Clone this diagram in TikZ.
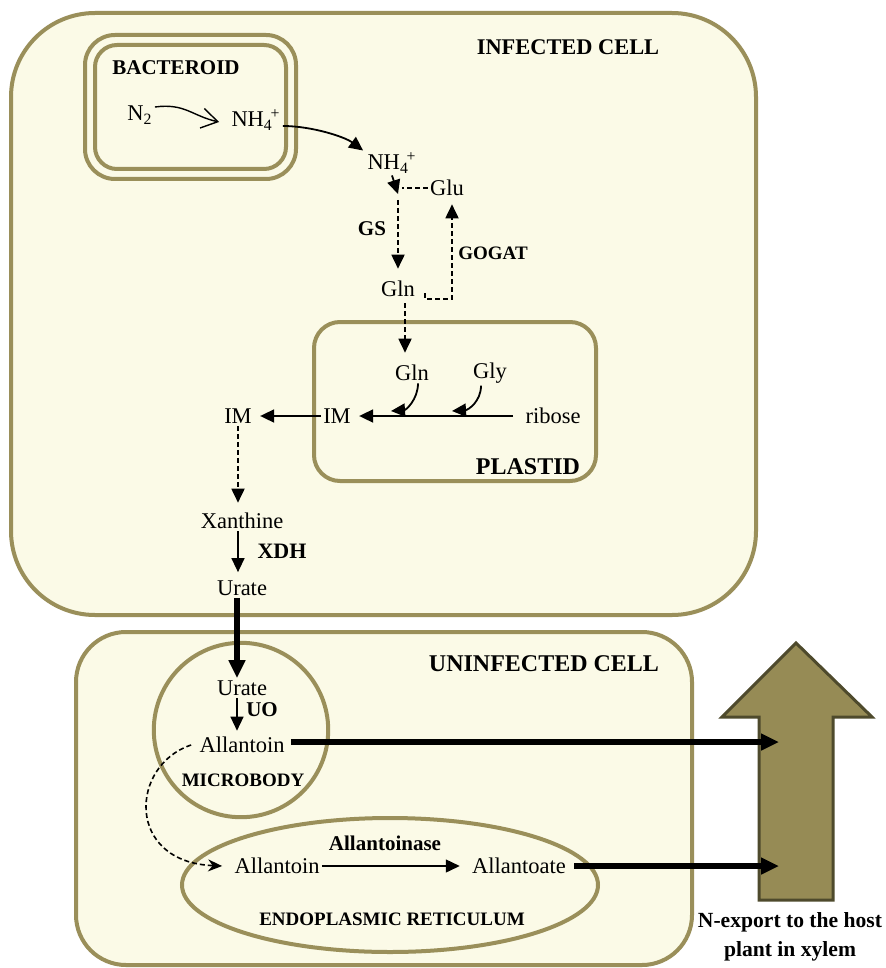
\documentclass[tikz,border=0pt]{standalone}
\usepackage{fontspec}
\setmainfont{Liberation Serif}
\usepackage{xcolor}
\usepackage{tikz}
\usetikzlibrary{positioning,calc,arrows.meta,shapes.geometric}

\definecolor{membrane}{HTML}{9A8F5A}
\definecolor{cream}{HTML}{FBFAE7}
\definecolor{xylemfill}{HTML}{968B55}
\definecolor{xylemedge}{HTML}{4E4A2C}

\begin{document}
\begin{tikzpicture}[x=0.5pt, y=-0.5pt,
  chem/.style={inner sep=1pt, font=\fontsize{11.25}{13}\selectfont},
  enz/.style={inner sep=1pt, font=\fontsize{10.5}{12}\selectfont\bfseries},
  title/.style={inner sep=1pt, font=\fontsize{11.5}{13}\selectfont\bfseries},
  membrane/.style={draw=membrane, line width=2pt, fill=cream},
  arr/.style={-{Triangle[length=7pt,width=6.5pt]}, line width=0.7pt},
  darr/.style={arr, line width=0.9pt, dash pattern=on 2.5pt off 1.5pt},
  fatarr/.style={-{Triangle[length=9pt,width=8pt]}, line width=3pt}]

  \useasboundingbox[fill=white] (0,0) rectangle (885,968);

  % compartments
  \draw[membrane, rounded corners=42pt] (11,13) rectangle (756,615);
  \draw[membrane, rounded corners=25pt] (76,632) rectangle (692,965);
  \draw[membrane, rounded corners=15pt] (85,35) rectangle (296,179);
  \draw[draw=membrane, line width=2pt, rounded corners=11pt] (95,45) rectangle (286,169);
  \draw[membrane, rounded corners=13pt] (314,322) rectangle (596,481);
  \draw[membrane] (241,730) circle[radius=43.6pt];
  \draw[membrane] (390,885) ellipse[x radius=104pt, y radius=33.5pt];

  % export arrow
  \draw[draw=xylemedge, fill=xylemfill, line width=1.5pt, line join=miter]
    (796,643) -- (872,717) -- (833,717) -- (833,900) -- (759,900) -- (759,717) -- (722,717) -- cycle;
  \coordinate (xylem) at (779,800);

  % labels
  \node[title, font=\fontsize{11.2}{13}\selectfont\bfseries] (infected) at (568,47) {INFECTED CELL};
  \node[title, font=\fontsize{10.5}{12}\selectfont\bfseries] (bacteroid) at (176,68) {BACTEROID};
  \node[title, font=\fontsize{12}{14}\selectfont\bfseries] (plastid) at (528,467) {PLASTID};
  \node[title, font=\fontsize{12}{14}\selectfont\bfseries] (uninfected) at (544,664) {UNINFECTED CELL};
  \node[title, font=\fontsize{9.5}{11}\selectfont\bfseries] (microbody) at (243,780) {MICROBODY};
  \node[title, font=\fontsize{9.5}{11}\selectfont\bfseries] (er) at (392,919) {ENDOPLASMIC RETICULUM};
  \node[title, align=center, font=\fontsize{10.8}{14.5}\selectfont\bfseries] (export) at (790,937)
    {N-export to the host\\plant in xylem};

  % metabolites
  \node[chem] (n2) at (140,115) {N\textsubscript{2}};
  \node[chem] (nh4a) at (256,120) {NH\textsubscript{4}\kern-0.1em\textsuperscript{+}};
  \node[chem] (nh4b) at (392,163) {NH\textsubscript{4}\kern-0.1em\textsuperscript{+}};
  \node[chem] (glu) at (447,188) {Glu};
  \node[chem] (gln) at (398,289) {Gln};
  \node[chem] (glnp) at (412,373) {Gln};
  \node[chem] (gly) at (490,373) {Gly};
  \node[chem] (imp) at (337,416) {IM};
  \node[chem] (ribose) at (553,416) {ribose};
  \node[chem] (im) at (238,416) {IM};
  \node[chem] (xan) at (242,521) {Xanthine};
  \node[chem] (urate) at (242,588) {Urate};
  \node[chem] (urate2) at (242,688) {Urate};
  \node[chem] (allan1) at (242,745) {Allantoin};
  \node[chem] (allan2) at (277,866) {Allantoin};
  \node[chem] (allantoate) at (519,866) {Allantoate};

  % enzymes
  \node[enz] (gs) at (372,229) {GS};
  \node[enz, font=\fontsize{9.5}{11}\selectfont\bfseries] (gogat) at (493,253) {GOGAT};
  \node[enz, font=\fontsize{11}{13}\selectfont\bfseries] (xdh) at (282,551) {XDH};
  \node[enz] (uo) at (262,710) {UO};
  \node[enz] (allantoinase) at (385,843) {Allantoinase};

  \coordinate (junc) at (398,194);
  \coordinate (jgln) at (391,411);
  \coordinate (jgly) at (452,411);

  % bacteroid and ammonium assimilation
  \draw[-{Straight Barb[length=8pt,width=10pt]}, line width=0.7pt]
    ([yshift=4pt]n2.east) .. controls (185,103) and (192,116) .. ([xshift=-5pt,yshift=-1pt]nh4a.west);
  \draw[arr, line width=0.9pt] ([yshift=-3pt]nh4a.east) .. controls (312,126) and (345,137) .. ([xshift=-1pt]nh4b.north west);
  \draw[arr, line width=0.9pt] (nh4b.south) -- (junc);
  \draw[dash pattern=on 2.5pt off 1.5pt, line width=0.9pt] (glu.west) -- ([xshift=2pt]glu.west -| junc);
  \draw[darr] ([yshift=-3pt]junc) -- ([yshift=5pt]gln.north);
  \draw[darr] ([xshift=4pt,yshift=-2pt]gln.east) -- ++(0,6) -| ([xshift=2.5pt,yshift=-3pt]glu.south);
  \draw[darr] ([xshift=3.5pt,yshift=-2pt]gln.south) -- ([xshift=-3.5pt,yshift=5pt]glnp.north);

  % purine synthesis
  \draw[arr, line width=0.9pt] ([xshift=-5pt]ribose.west) -- ([xshift=3pt]imp.east);
  \draw[arr, line width=0.9pt] ([xshift=3pt]glnp.south) .. controls +(0,16) and (406,410) .. (jgln);
  \draw[arr, line width=0.9pt] ([xshift=-4.5pt]gly.south) .. controls +(0,16) and (468,410) .. (jgly);
  \draw[arr, line width=0.9pt] (imp.west) -- ([xshift=3pt]im.east);
  \draw[darr] (im.south) -- ([yshift=4pt]im.south |- xan.north);
  \draw[arr] (xan.south -| im) -- ([yshift=3pt]im |- urate.north);

  % ureide formation and export
  \draw[fatarr] ([xshift=-2.5pt]urate.south) -- ([xshift=-2.5pt]urate2.north);
  \draw[arr] ([xshift=-2.5pt]urate2.south) -- ([xshift=-2.5pt,yshift=2pt]allan1.north);
  \draw[fatarr] ([xshift=2pt,yshift=1.5pt]allan1.east) -- ([yshift=1.5pt]allan1.east -| xylem);
  \draw[dash pattern=on 2.5pt off 1.5pt, line width=0.8pt, -{Stealth[length=7pt,width=6pt]}]
    ([xshift=-3pt]allan1.west) .. controls (130,765) and (125,862) .. ([xshift=-5pt]allan2.west);
  \draw[arr] (allan2.east) -- ([xshift=-5pt]allan2.east -| allantoate.west);
  \draw[fatarr] ([xshift=3pt]allantoate.east) -- (allantoate.east -| xylem);
\end{tikzpicture}
\end{document}
